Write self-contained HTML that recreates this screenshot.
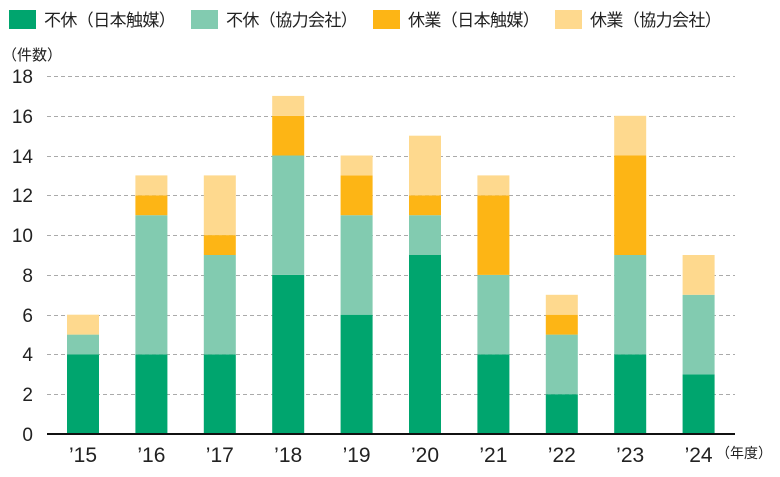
<!DOCTYPE html>
<html><head><meta charset="utf-8"><style>
body{margin:0;background:#fff}
text{font-family:"Liberation Sans","Noto Sans CJK JP",sans-serif;fill:#222}
</style></head><body>
<svg width="780" height="472" xmlns="http://www.w3.org/2000/svg">
<g font-size="17" letter-spacing="-0.6">
<rect x="9" y="10" width="27" height="19" fill="#00a56e"/><text x="44" y="26">不休（日本触媒）</text>
<rect x="191" y="10" width="27" height="19" fill="#82cbb0"/><text x="226" y="26">不休（協力会社）</text>
<rect x="373" y="10" width="27" height="19" fill="#fdb515"/><text x="408" y="26">休業（日本触媒）</text>
<rect x="555" y="10" width="27" height="19" fill="#fed98e"/><text x="590" y="26">休業（協力会社）</text>
</g>
<text x="2" y="60" font-size="15">（件数）</text>
<g stroke="#aaa" stroke-dasharray="4,3" stroke-width="1">
<line x1="47" x2="735" y1="76.5" y2="76.5"/><line x1="47" x2="735" y1="116.5" y2="116.5"/>
<line x1="47" x2="735" y1="156.5" y2="156.5"/><line x1="47" x2="735" y1="195.5" y2="195.5"/>
<line x1="47" x2="735" y1="235.5" y2="235.5"/><line x1="47" x2="735" y1="275.5" y2="275.5"/>
<line x1="47" x2="735" y1="315.5" y2="315.5"/><line x1="47" x2="735" y1="354.5" y2="354.5"/>
<line x1="47" x2="735" y1="394.5" y2="394.5"/>
</g>
<g font-size="19" text-anchor="end">
<text x="33" y="83">18</text><text x="33" y="123">16</text><text x="33" y="163">14</text>
<text x="33" y="202">12</text><text x="33" y="242">10</text><text x="33" y="282">8</text>
<text x="33" y="322">6</text><text x="33" y="361">4</text><text x="33" y="401">2</text>
<text x="33" y="441">0</text>
</g>
<g>
<rect x="67" y="354.4" width="32" height="79.6" fill="#00a56e"/>
<rect x="67" y="334.6" width="32" height="19.9" fill="#82cbb0"/>
<rect x="67" y="314.7" width="32" height="19.9" fill="#fed98e"/>
<rect x="135.4" y="354.4" width="32" height="79.6" fill="#00a56e"/>
<rect x="135.4" y="215.2" width="32" height="139.2" fill="#82cbb0"/>
<rect x="135.4" y="195.3" width="32" height="19.9" fill="#fdb515"/>
<rect x="135.4" y="175.4" width="32" height="19.9" fill="#fed98e"/>
<rect x="203.8" y="354.4" width="32" height="79.6" fill="#00a56e"/>
<rect x="203.8" y="255" width="32" height="99.4" fill="#82cbb0"/>
<rect x="203.8" y="235.1" width="32" height="19.9" fill="#fdb515"/>
<rect x="203.8" y="175.4" width="32" height="59.7" fill="#fed98e"/>
<rect x="272.2" y="274.9" width="32" height="159.1" fill="#00a56e"/>
<rect x="272.2" y="155.5" width="32" height="119.4" fill="#82cbb0"/>
<rect x="272.2" y="115.8" width="32" height="39.7" fill="#fdb515"/>
<rect x="272.2" y="95.9" width="32" height="19.9" fill="#fed98e"/>
<rect x="340.6" y="314.7" width="32" height="119.3" fill="#00a56e"/>
<rect x="340.6" y="215.2" width="32" height="99.5" fill="#82cbb0"/>
<rect x="340.6" y="175.4" width="32" height="39.8" fill="#fdb515"/>
<rect x="340.6" y="155.5" width="32" height="19.9" fill="#fed98e"/>
<rect x="409" y="255" width="32" height="179" fill="#00a56e"/>
<rect x="409" y="215.2" width="32" height="39.8" fill="#82cbb0"/>
<rect x="409" y="195.3" width="32" height="19.9" fill="#fdb515"/>
<rect x="409" y="135.7" width="32" height="59.6" fill="#fed98e"/>
<rect x="477.4" y="354.4" width="32" height="79.6" fill="#00a56e"/>
<rect x="477.4" y="274.9" width="32" height="79.5" fill="#82cbb0"/>
<rect x="477.4" y="195.3" width="32" height="79.6" fill="#fdb515"/>
<rect x="477.4" y="175.4" width="32" height="19.9" fill="#fed98e"/>
<rect x="545.8" y="394.2" width="32" height="39.8" fill="#00a56e"/>
<rect x="545.8" y="334.6" width="32" height="59.6" fill="#82cbb0"/>
<rect x="545.8" y="314.7" width="32" height="19.9" fill="#fdb515"/>
<rect x="545.8" y="294.8" width="32" height="19.9" fill="#fed98e"/>
<rect x="614.2" y="354.4" width="32" height="79.6" fill="#00a56e"/>
<rect x="614.2" y="255" width="32" height="99.4" fill="#82cbb0"/>
<rect x="614.2" y="155.5" width="32" height="99.5" fill="#fdb515"/>
<rect x="614.2" y="115.8" width="32" height="39.7" fill="#fed98e"/>
<rect x="682.6" y="374.3" width="32" height="59.7" fill="#00a56e"/>
<rect x="682.6" y="294.8" width="32" height="79.5" fill="#82cbb0"/>
<rect x="682.6" y="255" width="32" height="39.8" fill="#fed98e"/>
</g>
<line x1="47" x2="735" y1="434" y2="434" stroke="#111" stroke-width="2"/>
<g font-size="21" text-anchor="middle">
<text x="83" y="462">’15</text><text x="151.4" y="462">’16</text><text x="219.8" y="462">’17</text>
<text x="288.2" y="462">’18</text><text x="356.6" y="462">’19</text><text x="425" y="462">’20</text>
<text x="493.4" y="462">’21</text><text x="561.8" y="462">’22</text><text x="630.2" y="462">’23</text>
<text x="698.6" y="462">’24</text>
</g>
<text x="716" y="458" font-size="14">（年度）</text>
</svg>
</body></html>
